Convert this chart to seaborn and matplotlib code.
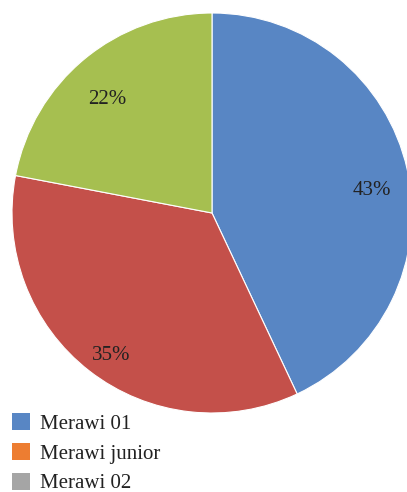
import matplotlib
matplotlib.use("Agg")
import matplotlib.pyplot as plt
import matplotlib.transforms as mtransforms
import seaborn as sns
from matplotlib.patches import Patch

sns.set_theme(style="white")
plt.rcParams['font.family'] = ['Liberation Serif', 'DejaVu Serif']

slice_values = [43, 35, 22]
slice_colors = ['#5886C4', '#C4504A', '#A6BF50']
legend_labels = ['Merawi 01', 'Merawi junior', 'Merawi 02']
legend_colors = ['#5886C4', '#ED7D31', '#A5A5A5']

W, H = 407, 492
fig = plt.figure(figsize=(W / 100, H / 100), dpi=100)
cx, cy, r = 212, 213, 200
ax = fig.add_axes([(cx - r) / W, (H - cy - r) / H, 2 * r / W, 2 * r / H])
wedges, texts, autotexts = ax.pie(
    slice_values, colors=slice_colors, startangle=90, counterclock=False,
    autopct='%d%%', pctdistance=0.82,
    wedgeprops=dict(edgecolor='white', linewidth=0.8),
    textprops=dict(fontsize=15, color='#222222'))
shift = mtransforms.ScaledTranslation(0, -13 / 100, fig.dpi_scale_trans)
for t in autotexts:
    t.set_transform(t.get_transform() + shift)
ax.set_xlim(-1, 1)
ax.set_ylim(-1, 1)
ax.set_aspect('auto')
ax.axis('off')

handles = [Patch(facecolor=c, edgecolor='none') for c in legend_colors]
fig.legend(handles, legend_labels, loc='upper left',
           bbox_to_anchor=(8 / W, 1 - 409 / H), frameon=False,
           fontsize=15, handlelength=0.87, handleheight=0.87,
           handletextpad=0.48, labelspacing=0.44, borderaxespad=0, borderpad=0.2,
           labelcolor='#222222')

fig.savefig('out.png', dpi=100)
